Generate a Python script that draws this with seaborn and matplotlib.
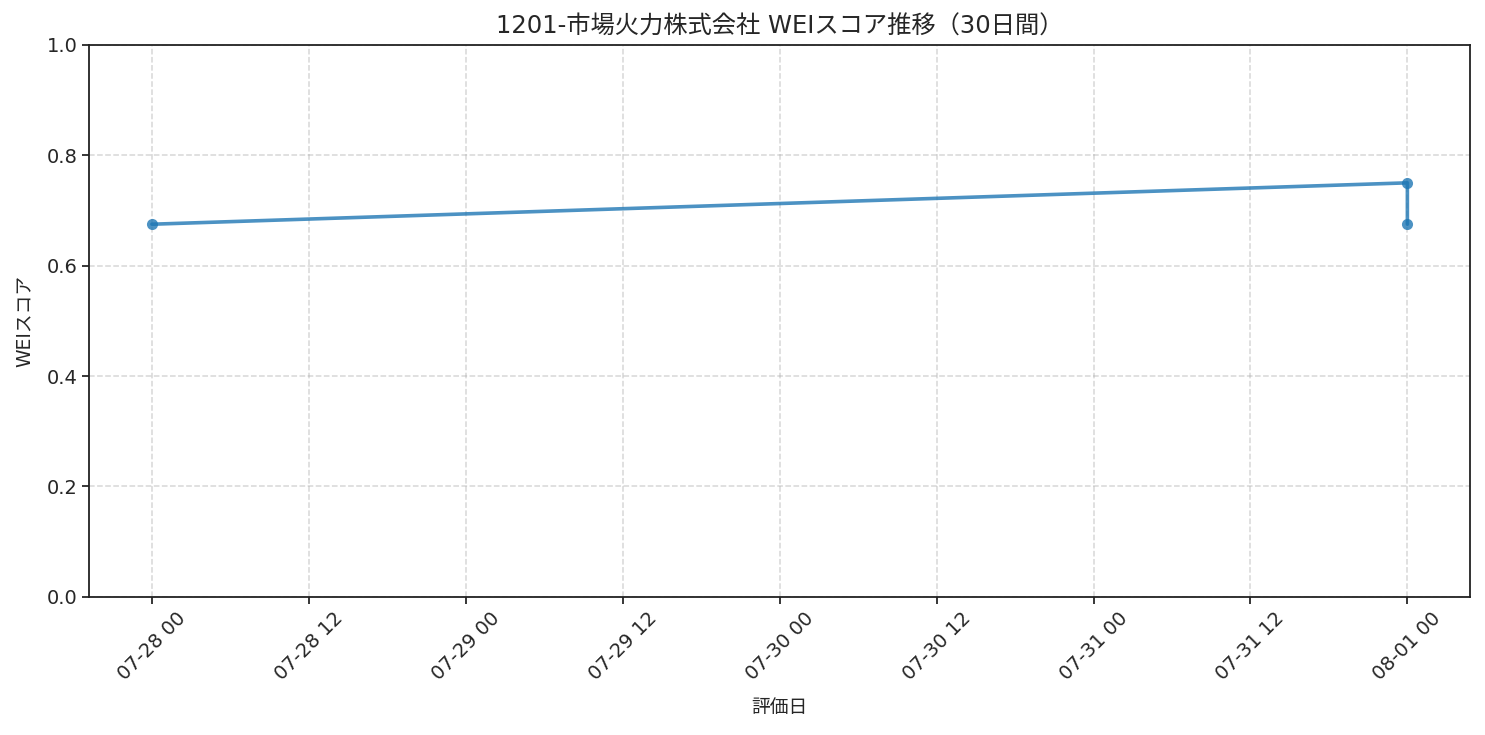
"""WEI score trend chart."""

import pandas as pd
import matplotlib
matplotlib.use("Agg")
import matplotlib.pyplot as plt
import matplotlib.dates as mdates
import seaborn as sns

# Data
eval_dates = ["2025-07-28 00:00", "2025-08-01 00:00", "2025-08-01 00:00"]
wei_scores = [0.675, 0.750, 0.675]
title = "1201-市場火力株式会社 WEIスコア推移（30日間）"

sns.set_style("ticks")
plt.rcParams["font.family"] = ["DejaVu Sans", "Noto Sans CJK JP"]

df = pd.DataFrame({"date": pd.to_datetime(eval_dates), "score": wei_scores})

fig, ax = plt.subplots(figsize=(14.85, 7.35), dpi=100)
sns.lineplot(
    data=df, x="date", y="score", ax=ax,
    estimator=None, sort=False,
    marker="o", markersize=8, markeredgewidth=0,
    color="#1f77b4", alpha=0.8, linewidth=2.6,
)

ax.set_ylim(0, 1.0)
ax.set_title(title, fontsize=17.5, pad=8)
ax.set_xlabel("評価日", fontsize=13.5, labelpad=10)
ax.set_ylabel("WEIスコア", fontsize=13.5, labelpad=9)
ax.xaxis.set_major_formatter(mdates.DateFormatter("%m-%d %H"))
ax.tick_params(axis="x", rotation=45, labelsize=14, length=5, width=1.3)
ax.tick_params(axis="y", labelsize=14, length=5, width=1.3)
for lbl in ax.get_xticklabels():
    lbl.set_ha("center")
ax.grid(True, linestyle="--", color="#b0b0b0", alpha=0.5, linewidth=1.1)
ax.set_axisbelow(True)
for sp in ax.spines.values():
    sp.set_color("#222222")
    sp.set_linewidth(1.3)
    sp.set_visible(True)

fig.subplots_adjust(left=0.060, right=0.990, top=0.939, bottom=0.188)
fig.savefig("out.png", dpi=100, facecolor="white")
plt.close(fig)
